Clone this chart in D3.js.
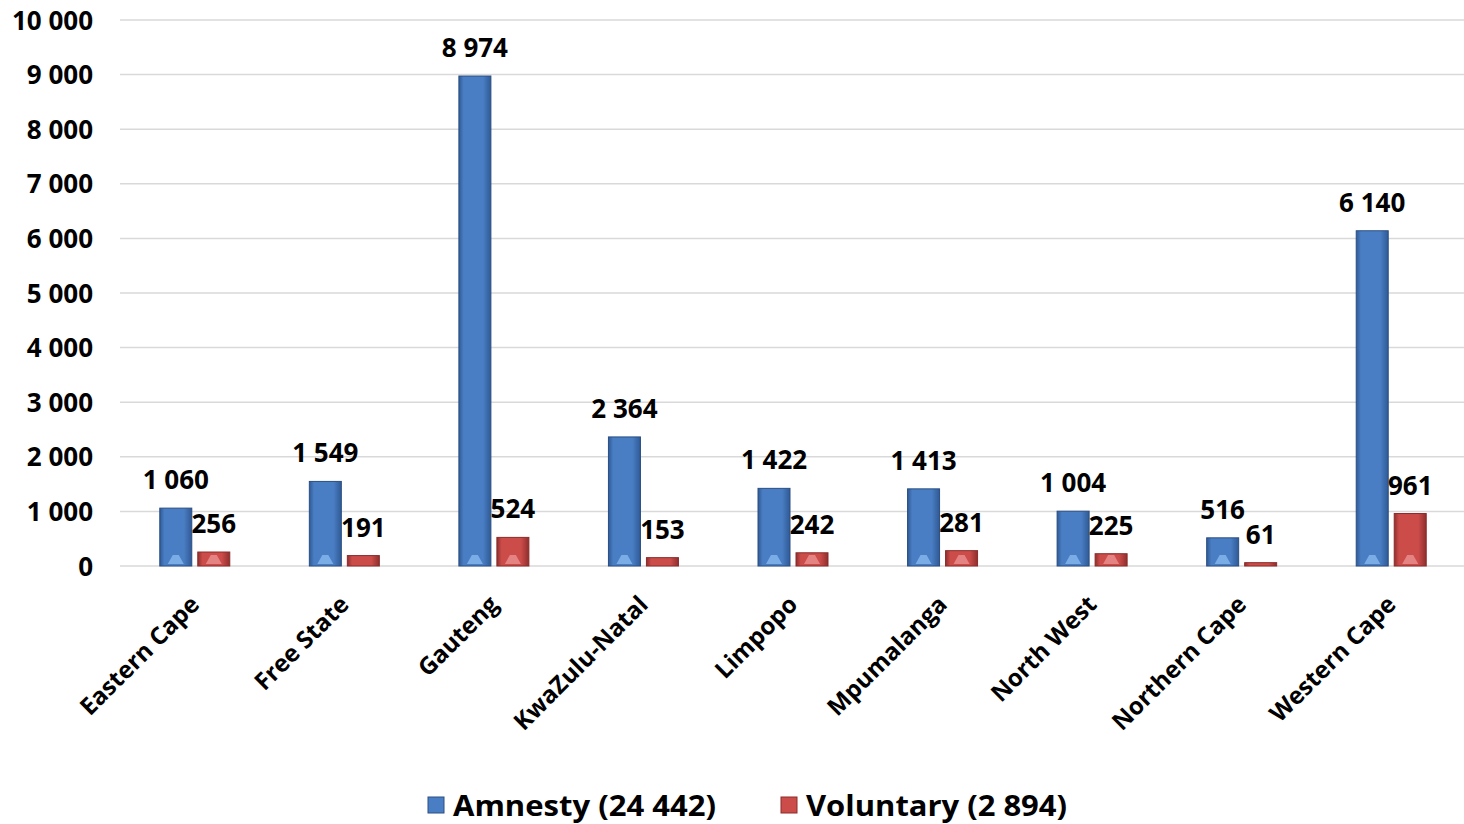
<!DOCTYPE html>
<html><head><meta charset="utf-8">
<script src="https://cdn.jsdelivr.net/npm/d3@7"></script>
<style>body{margin:0;background:#fff;}svg{display:block;font-family:"Open Sans",sans-serif;font-weight:700;}</style>
</head><body><svg id="c" width="1464" height="824"></svg>
<script>
const categories = ["Eastern Cape","Free State","Gauteng","KwaZulu-Natal","Limpopo","Mpumalanga","North West","Northern Cape","Western Cape"];
const amnesty = [1060,1549,8974,2364,1422,1413,1004,516,6140];
const voluntary = [256,191,524,153,242,281,225,61,961];
const seriesNames = ["Amnesty (24 442)","Voluntary (2 894)"];
const yTicks = [0,1000,2000,3000,4000,5000,6000,7000,8000,9000,10000];

const svg = d3.select("#c");
const fmt = v => d3.format(",")(v).replace(/,/g," ");
const x = d3.scaleBand().domain(categories).range([120,1466]);
const y = d3.scaleLinear().domain([0,10000]).range([566,20]);
const off = d3.scaleOrdinal().domain([0,1]).range([-19,19]);
const bw = 32;

const defs = svg.append("defs");
function grad(id, edge, mid){
  const g = defs.append("linearGradient").attr("id",id).attr("x1","0").attr("x2","1").attr("y1","0").attr("y2","0");
  g.append("stop").attr("offset","0%").attr("stop-color",edge);
  g.append("stop").attr("offset","15%").attr("stop-color",mid);
  g.append("stop").attr("offset","75%").attr("stop-color",mid);
  g.append("stop").attr("offset","100%").attr("stop-color",edge);
}
grad("gb","#2f5a96","#4a7ec4");
grad("gr","#8e2f2d","#cc4c4a");
const fills = ["url(#gb)","url(#gr)"];
const strokes = ["#2a4e82","#8a2c2a"];
const tri = ["#7fb3ea","#e88a88"];
const legendFill = ["#4a7ec4","#cc4c4a"];

// gridlines
svg.append("g").selectAll("line").data(yTicks).join("line")
  .attr("x1",120).attr("x2",1464).attr("y1",d=>y(d)).attr("y2",d=>y(d))
  .attr("stroke","#d9d9d9").attr("stroke-width",1.5);

// y axis labels
const yAxis = d3.axisLeft(y).tickValues(yTicks).tickFormat(fmt).tickSize(0).tickPadding(0);
const ya = svg.append("g").attr("transform","translate(93,0)").call(yAxis);
ya.select(".domain").remove();
ya.selectAll("text").attr("font-size",26).attr("font-family","Open Sans, sans-serif").attr("font-weight",700).attr("fill","#000").attr("dy","0.35em");

const series = [amnesty, voluntary];
series.forEach((vals, si) => {
  const g = svg.append("g");
  const data = categories.map((c,i)=>({c, v: vals[i]}));
  g.selectAll("rect").data(data).join("rect")
    .attr("x", d => x(d.c) + x.bandwidth()/2 + off(si) - bw/2)
    .attr("y", d => y(d.v))
    .attr("width", bw)
    .attr("height", d => y(0) - y(d.v))
    .attr("fill", fills[si]).attr("stroke", strokes[si]).attr("stroke-width",1);
  g.selectAll("path.tri").data(data.filter(d => y(0)-y(d.v) > 12)).join("path").attr("class","tri")
    .attr("d", d => { const cx = x(d.c)+x.bandwidth()/2+off(si), b = y(0)-2; return `M${cx-8},${b} L${cx-3},${b-9} L${cx+3},${b-9} L${cx+8},${b} Z`; })
    .attr("fill", tri[si]).attr("opacity",0.9);
  g.selectAll("text").data(data).join("text")
    .attr("x", d => x(d.c) + x.bandwidth()/2 + off(si))
    .attr("y", d => y(d.v) - 19)
    .attr("text-anchor","middle").attr("font-size",26).attr("fill","#000")
    .text(d => fmt(d.v));
});

// category labels
svg.append("g").selectAll("text").data(categories).join("text")
  .attr("transform", d => `translate(${x(d)+x.bandwidth()/2+6},${606}) rotate(-45)`)
  .attr("text-anchor","end").attr("font-size",24).attr("fill","#000")
  .text(d=>d);

// legend
const lg = svg.append("g");
const lx = [428, 781];
seriesNames.forEach((n,i)=>{
  lg.append("rect").attr("x",lx[i]).attr("y",797).attr("width",16).attr("height",16)
    .attr("fill",legendFill[i]).attr("stroke",strokes[i]);
  lg.append("text").attr("x",lx[i]+25).attr("y",816).attr("font-size",29).attr("fill","#000")
    .attr("textLength", i===0?263:261).attr("lengthAdjust","spacingAndGlyphs").text(n);
});
</script></body></html>
